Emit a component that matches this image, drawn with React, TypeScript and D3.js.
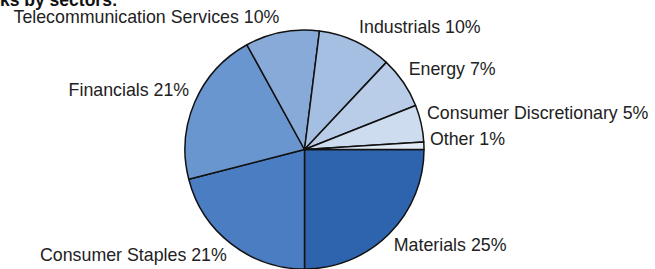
import React from 'react';
import * as d3 from 'd3';

// sector shares, clockwise from 3 o'clock
const sectors = [
  'Materials',
  'Consumer Staples',
  'Financials',
  'Telecommunication Services',
  'Industrials',
  'Energy',
  'Consumer Discretionary',
  'Other',
];
const shares = [25, 21, 21, 10, 10, 7, 5, 1];
const sliceColors = [
  '#2e63ae',
  '#4a7dc2',
  '#6a96cf',
  '#88aad8',
  '#a5bfe3',
  '#b9cde9',
  '#cedcef',
  '#e2eaf5',
];
const title = 'ks by sectors:';

const W = 655;
const H = 269;

export default function App() {
  const cx = 304.5;
  const cy = 149.5;
  const r = 119.5;

  const data = sectors.map((s, i) => ({ label: s, value: shares[i], color: sliceColors[i] }));

  const pie = d3
    .pie<any>()
    .value((d) => d.value)
    .sort(null)
    .startAngle(Math.PI / 2)
    .endAngle(Math.PI / 2 + 2 * Math.PI);

  const arcs = pie(data);
  const arc = d3.arc<any>().innerRadius(0).outerRadius(r);

  const labelR = r + 4;

  return (
    <div style={{ position: 'absolute', left: 0, top: 0 }}>
      <svg width={W} height={H} style={{ display: 'block' }} fontFamily="'Liberation Sans', Arial, sans-serif">
        <rect width={W} height={H} fill="#fff" />
        <text x={0} y={5.5} fontSize={17.5} fontWeight="bold" fill="#111">
          {title}
        </text>
        <g transform={`translate(${cx},${cy})`}>
          {arcs.map((a, i) => (
            <path key={i} d={arc(a) as string} fill={a.data.color} stroke="#111" strokeWidth={1.5} strokeLinejoin="round" />
          ))}
          {arcs.map((a, i) => {
            const mid = (a.startAngle + a.endAngle) / 2;
            const s = Math.sin(mid);
            const c = Math.cos(mid);
            const px = labelR * s + (s >= 0 ? 2 : -2);
            const py = -labelR * c;
            // upper labels sit above the anchor, lower ones hang below it
            const off = c >= 0 ? -4.5 * Math.tanh(3 * c) - 0.5 : 14.5 * Math.tanh(-3 * c);
            return (
              <text
                key={'l' + i}
                x={px}
                y={py + off}
                textAnchor={s >= 0 ? 'start' : 'end'}
                fontSize={17.8}
                fill="#222"
              >
                {`${a.data.label} ${a.data.value}%`}
              </text>
            );
          })}
        </g>
      </svg>
    </div>
  );
}
